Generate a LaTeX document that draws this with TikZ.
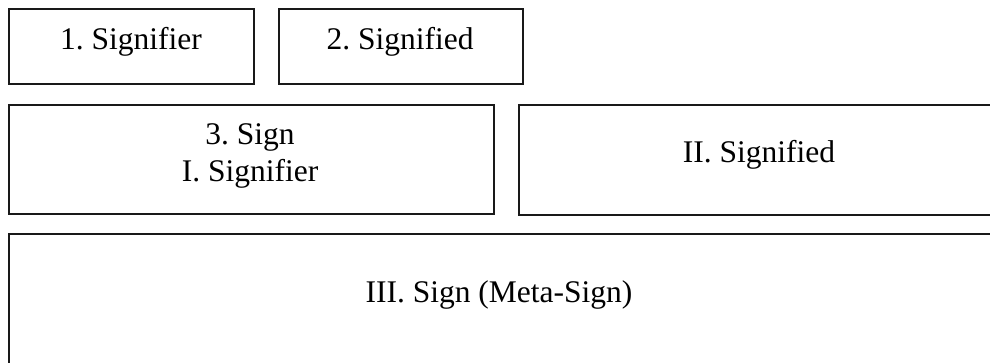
\documentclass[tikz,border=0pt]{standalone}
\usepackage{fontspec}
\setmainfont{Liberation Serif}
\frenchspacing
\begin{document}
\begin{tikzpicture}[x=1pt,y=-1pt,
  boxstyle/.style={draw=black!90, line width=1.8pt, rectangle, inner sep=0pt, anchor=north west},
  labelstyle/.style={font=\fontsize{31.5}{37}\selectfont, anchor=base, inner sep=0pt, align=center}]
\useasboundingbox (0,0) rectangle (990,363);
\clip (0,0) rectangle (990,363);
\node[boxstyle, minimum width=245pt, minimum height=75pt] (b1) at (8,8) {};
\node[boxstyle, minimum width=244pt, minimum height=75pt] (b2) at (278,8) {};
\node[boxstyle, minimum width=485pt, minimum height=109pt] (b3) at (8,104) {};
\node[boxstyle, minimum width=482pt, minimum height=110pt] (b4) at (518,104) {};
\node[boxstyle, minimum width=983pt, minimum height=131pt] (b5) at (8,233) {};
\node[labelstyle] (t1) at (131,50) {1. Signifier};
\node[labelstyle] (t2) at (400,50) {2. Signified};
\node[labelstyle] (t3a) at (250,145) {3. Sign};
\node[labelstyle] (t3b) at (250,182) {I. Signifier};
\node[labelstyle] (t4) at (759,163) {II. Signified};
\node[labelstyle] (t5) at (499,302) {III. Sign (Meta-Sign)};
\end{tikzpicture}
\end{document}
